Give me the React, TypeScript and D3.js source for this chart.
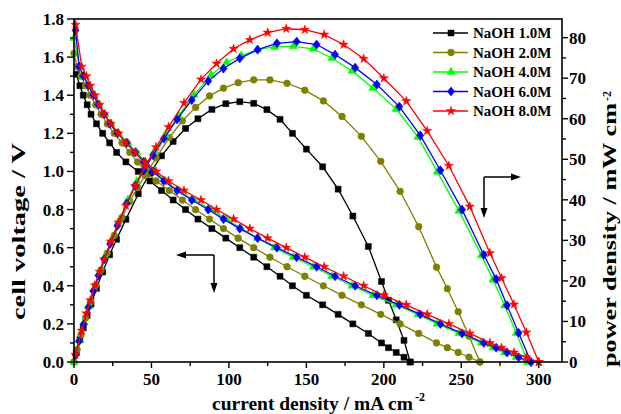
import React from 'react';
import * as d3 from 'd3';

const seriesNames = ['NaOH 1.0M', 'NaOH 2.0M', 'NaOH 4.0M', 'NaOH 6.0M', 'NaOH 8.0M'];
const seriesColors = ['#000000', '#808000', '#00ff00', '#0000ff', '#ff0000'];
const seriesShapes = ['square', 'circle', 'triangle', 'diamond', 'star'];

// NaOH 1.0M
const current10 = [1.5, 3.8, 6, 8.5, 11, 14.5, 18.5, 23, 27.5, 33.5, 41.5, 49, 56.5, 64, 72, 80, 89, 98, 107, 116, 124.5, 133, 141, 150, 160.5, 170.5, 180, 190, 198.5, 203, 208, 213, 217];
const voltage10 = [1.51, 1.45, 1.40, 1.35, 1.30, 1.25, 1.20, 1.15, 1.10, 1.05, 1.00, 0.95, 0.90, 0.85, 0.80, 0.75, 0.70, 0.65, 0.60, 0.55, 0.50, 0.45, 0.40, 0.35, 0.30, 0.25, 0.20, 0.15, 0.10, 0.075, 0.05, 0.025, 0];
const power10 = [2.27, 5.51, 8.4, 11.48, 14.3, 18.13, 22.2, 26.45, 30.25, 35.18, 41.5, 46.55, 50.85, 54.4, 57.6, 60, 62.3, 63.7, 64.2, 63.8, 62.25, 59.85, 56.4, 52.5, 48.15, 42.63, 36, 28.5, 19.85, 15.23, 10.4, 5.33, 0];

// NaOH 2.0M
const current20 = [0, 2, 4.5, 7.5, 10.5, 14, 17.5, 21.5, 26, 31, 36, 41, 46, 53, 61.5, 70, 78.5, 87.5, 96.5, 106, 116, 126.5, 137.5, 149, 161, 173, 185.5, 198, 210.5, 222.5, 234, 241, 248, 255, 262];
const voltage20 = [1.62, 1.55, 1.50, 1.45, 1.40, 1.35, 1.30, 1.25, 1.20, 1.15, 1.10, 1.05, 1.00, 0.95, 0.90, 0.85, 0.80, 0.75, 0.70, 0.65, 0.60, 0.55, 0.50, 0.45, 0.40, 0.35, 0.30, 0.25, 0.20, 0.15, 0.10, 0.075, 0.05, 0.025, 0];
const power20 = [0, 3.1, 6.75, 10.88, 14.7, 18.9, 22.75, 26.88, 31.2, 35.65, 39.6, 43.05, 46, 50.35, 55.35, 59.5, 62.8, 65.63, 67.55, 68.9, 69.6, 69.58, 68.75, 67.05, 64.4, 60.55, 55.65, 49.5, 42.1, 33.38, 23.4, 18.08, 12.4, 6.38, 0];

// NaOH 4.0M
const current40 = [0, 3.5, 6.5, 9.5, 12.8, 16.2, 20, 24, 28.8, 34.8, 40.5, 46, 52, 59, 67.5, 77.5, 88.5, 98.5, 108, 118.5, 129.5, 141.5, 154.5, 166.5, 179.5, 193, 208, 222, 234.5, 248.5, 263, 270.5, 278, 285.5, 293];
const voltage40 = [1.70, 1.55, 1.50, 1.45, 1.40, 1.35, 1.30, 1.25, 1.20, 1.15, 1.10, 1.05, 1.00, 0.95, 0.90, 0.85, 0.80, 0.75, 0.70, 0.65, 0.60, 0.55, 0.50, 0.45, 0.40, 0.35, 0.30, 0.25, 0.20, 0.15, 0.10, 0.075, 0.05, 0.025, 0];
const power40 = [0, 5.43, 9.75, 13.78, 17.92, 21.87, 26, 30, 34.56, 40.02, 44.55, 48.3, 52, 56.05, 60.75, 65.88, 70.8, 73.88, 75.6, 77.03, 77.7, 77.83, 77.25, 74.93, 71.8, 67.55, 62.4, 55.5, 46.9, 37.28, 26.3, 20.29, 13.9, 7.14, 0];

// NaOH 6.0M
const current60 = [1, 3.3, 6.2, 9.3, 12.5, 15.8, 19.5, 23.3, 28, 34, 39.5, 45, 51, 58, 66.5, 76, 86.6, 96.5, 107, 118.5, 131, 143.7, 156.6, 168.5, 181.5, 195.5, 210, 223.5, 236.5, 250.5, 264.5, 272.5, 279.5, 287, 295];
const voltage60 = [1.74, 1.55, 1.50, 1.45, 1.40, 1.35, 1.30, 1.25, 1.20, 1.15, 1.10, 1.05, 1.00, 0.95, 0.90, 0.85, 0.80, 0.75, 0.70, 0.65, 0.60, 0.55, 0.50, 0.45, 0.40, 0.35, 0.30, 0.25, 0.20, 0.15, 0.10, 0.075, 0.05, 0.025, 0];
const power60 = [1.74, 5.12, 9.3, 13.49, 17.5, 21.33, 25.35, 29.13, 33.6, 39.1, 43.45, 47.25, 51, 55.1, 59.85, 64.6, 69.28, 72.38, 74.9, 77.03, 78.6, 79.04, 78.3, 75.83, 72.6, 68.43, 63, 55.88, 47.3, 37.58, 26.45, 20.44, 13.98, 7.18, 0];

// NaOH 8.0M
const current80 = [1, 5, 8, 10.5, 13.5, 16.5, 19.5, 23.8, 28.7, 33.5, 39.5, 46, 53, 61, 71, 82, 92, 103, 113.5, 125, 137, 149, 161.5, 174, 187, 200, 214.5, 228, 242, 255.5, 268.5, 276, 284, 292, 300];
const voltage80 = [1.77, 1.55, 1.50, 1.45, 1.40, 1.35, 1.30, 1.25, 1.20, 1.15, 1.10, 1.05, 1.00, 0.95, 0.90, 0.85, 0.80, 0.75, 0.70, 0.65, 0.60, 0.55, 0.50, 0.45, 0.40, 0.35, 0.30, 0.25, 0.20, 0.15, 0.10, 0.075, 0.05, 0.025, 0];
const power80 = [1.77, 7.75, 12, 15.23, 18.9, 22.28, 25.35, 29.75, 34.44, 38.53, 43.45, 48.3, 53, 57.95, 63.9, 69.7, 73.6, 77.25, 79.45, 81.25, 82.2, 81.95, 80.75, 78.3, 74.8, 70, 64.35, 57, 48.4, 38.33, 26.85, 20.7, 14.2, 7.3, 0];

const xTicks = [0, 50, 100, 150, 200, 250, 300];
const xMinorTicks = [25, 75, 125, 175, 225, 275];
const vTicks = [0, 0.2, 0.4, 0.6, 0.8, 1.0, 1.2, 1.4, 1.6, 1.8];
const vMinorTicks = [0.1, 0.3, 0.5, 0.7, 0.9, 1.1, 1.3, 1.5, 1.7];
const pTicks = [0, 10, 20, 30, 40, 50, 60, 70, 80];
const pMinorTicks = [5, 15, 25, 35, 45, 55, 65, 75];

const FONT = "'Liberation Serif', 'Times New Roman', serif";

function markerPath(shape: string): string {
  switch (shape) {
    case 'square': return d3.symbol(d3.symbolSquare, 36)() as string;
    case 'circle': return d3.symbol(d3.symbolCircle, 36)() as string;
    case 'triangle': return d3.symbol(d3.symbolTriangle, 30)() as string;
    case 'diamond': return 'M0,-4.6L3.6,0L0,4.6L-3.6,0Z';
    case 'star': return d3.symbol(d3.symbolStar, 26)() as string;
  }
  return '';
}

export default function App() {
  const W = 621, H = 414;
  const left = 74, right = 562, top = 19, bottom = 362;
  const x = d3.scaleLinear().domain([0, 315]).range([left, right]);
  const yV = d3.scaleLinear().domain([0, 1.8]).range([bottom, top]);
  const yP = d3.scaleLinear().domain([0, 84.6]).range([bottom, top]);

  const currents = [current10, current20, current40, current60, current80];
  const voltages = [voltage10, voltage20, voltage40, voltage60, voltage80];
  const powers = [power10, power20, power40, power60, power80];

  const series = seriesNames.map((name, k) => ({
    name,
    color: seriesColors[k],
    shape: seriesShapes[k],
    vPts: currents[k].map((c, i) => [c, voltages[k][i]] as [number, number]),
    pPts: currents[k].map((c, i) => [c, powers[k][i]] as [number, number]),
  }));

  const lineV = d3.line<[number, number]>().x(d => x(d[0])).y(d => yV(d[1]));
  const lineP = d3.line<[number, number]>().x(d => x(d[0])).y(d => yP(d[1]));

  const legendY = [33, 52.5, 72, 91.5, 111];

  return (
    <svg width={W} height={H} style={{ position: 'absolute', left: 0, top: 0, background: '#fff' }}
      fontFamily={FONT} fontWeight="bold">
      <rect x={0} y={0} width={W} height={H} fill="#fff" />
      {series.map(s => {
        const mp = markerPath(s.shape);
        return (
          <g key={s.name}>
            <path d={lineV(s.vPts) as string} fill="none" stroke={s.color} strokeWidth={1.3} />
            <path d={lineP(s.pPts) as string} fill="none" stroke={s.color} strokeWidth={1.3} />
            {s.vPts.map((d, i) => (
              <path key={'v' + i} d={mp} transform={`translate(${x(d[0])},${yV(d[1])})`} fill={s.color} stroke={s.color} strokeWidth={0.5} />
            ))}
            {s.pPts.map((d, i) => (
              <path key={'p' + i} d={mp} transform={`translate(${x(d[0])},${yP(d[1])})`} fill={s.color} stroke={s.color} strokeWidth={0.5} />
            ))}
          </g>
        );
      })}

      {/* frame */}
      <rect x={left} y={top} width={right - left} height={bottom - top} fill="none" stroke="#000" strokeWidth={1.6} />

      {/* bottom axis ticks */}
      {xTicks.map(t => (
        <g key={'xt' + t}>
          <line x1={x(t)} x2={x(t)} y1={bottom} y2={bottom + 6} stroke="#000" strokeWidth={1.4} />
          <text x={x(t)} y={385} textAnchor="middle" fontSize={17}>{t}</text>
        </g>
      ))}
      {xMinorTicks.map(t => (
        <line key={'xm' + t} x1={x(t)} x2={x(t)} y1={bottom} y2={bottom + 4} stroke="#000" strokeWidth={1.4} />
      ))}

      {/* left axis ticks */}
      {vTicks.map(t => (
        <g key={'vt' + t}>
          <line x1={left - 7} x2={left} y1={yV(t)} y2={yV(t)} stroke="#000" strokeWidth={1.4} />
          <text x={64} y={yV(t)} dy="0.35em" textAnchor="end" fontSize={17}>{d3.format('.1f')(t)}</text>
        </g>
      ))}
      {vMinorTicks.map(t => (
        <line key={'vm' + t} x1={left - 4} x2={left} y1={yV(t)} y2={yV(t)} stroke="#000" strokeWidth={1.4} />
      ))}

      {/* right axis ticks */}
      {pTicks.map(t => (
        <g key={'pt' + t}>
          <line x1={right} x2={right + 6} y1={yP(t)} y2={yP(t)} stroke="#000" strokeWidth={1.4} />
          <text x={569} y={yP(t)} dy="0.35em" textAnchor="start" fontSize={17}>{t}</text>
        </g>
      ))}
      {pMinorTicks.map(t => (
        <line key={'pm' + t} x1={right} x2={right + 4} y1={yP(t)} y2={yP(t)} stroke="#000" strokeWidth={1.4} />
      ))}

      {/* axis titles */}
      <text x={212} y={410} fontSize={19} textLength={201} lengthAdjust="spacingAndGlyphs">current density / mA cm</text>
      <text x={415} y={401} fontSize={12}>-2</text>
      <text transform="translate(25,320) rotate(-90)" fontSize={19} textLength={177} lengthAdjust="spacingAndGlyphs">cell voltage / V</text>
      <text transform="translate(616,367) rotate(-90)" fontSize={19} textLength={264} lengthAdjust="spacingAndGlyphs">power density / mW cm</text>
      <text transform="translate(611,101) rotate(-90)" fontSize={12}>-2</text>

      {/* legend */}
      {series.map((s, k) => (
        <g key={'lg' + k}>
          <line x1={433} x2={468} y1={legendY[k]} y2={legendY[k]} stroke={s.color} strokeWidth={1.5} />
          <path d={markerPath(s.shape)} transform={`translate(451,${legendY[k]})`} fill={s.color} stroke={s.color} strokeWidth={0.5} />
          <text x={473} y={legendY[k]} dy="0.35em" fontSize={15}>{s.name}</text>
        </g>
      ))}

      {/* arrows */}
      <g stroke="#000" strokeWidth={1.5} fill="none">
        <path d="M214,255 H184 M214,255 V285" />
        <path d="M484,177 H513 M484,177 V210" />
      </g>
      <g fill="#000">
        <path d="M176,255 L186,251.5 L186,258.5 Z" />
        <path d="M214,293 L210.5,283 L217.5,283 Z" />
        <path d="M521,177 L511,173.5 L511,180.5 Z" />
        <path d="M484,218 L480.5,208 L487.5,208 Z" />
      </g>
    </svg>
  );
}
